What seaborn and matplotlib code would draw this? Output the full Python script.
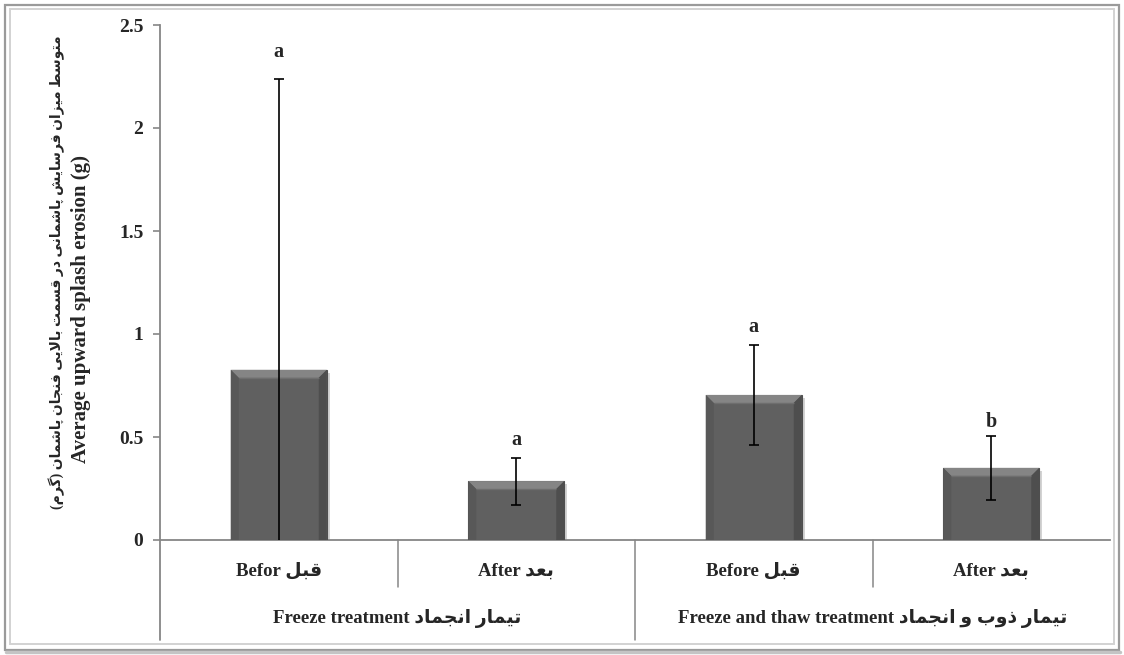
import numpy as np
import pandas as pd
import seaborn as sns
import matplotlib
matplotlib.use("Agg")
import matplotlib.pyplot as plt
from matplotlib.patches import Polygon, Rectangle
from matplotlib.lines import Line2D
import matplotlib.transforms as mtransforms

# ---------------- data ----------------
categories_en = ["Befor", "After", "Before", "After"]
categories_fa = ["قبل", "بعد", "قبل", "بعد"]
groups_en = ["Freeze treatment", "Freeze and thaw treatment"]
groups_fa = ["تیمار انجماد", "تیمار ذوب و انجماد"]
means = [0.826, 0.286, 0.704, 0.350]
errors = [1.41, 0.114, 0.243, 0.156]
letters = ["a", "a", "a", "b"]
letter_y = [2.345, 0.461, 1.01, 0.549]
yticks = [0, 0.5, 1, 1.5, 2, 2.5]
ytick_labels = ["0", "0.5", "1", "1.5", "2", "2.5"]
ylabel_en = "Average upward splash erosion (g)"
ylabel_fa = "متوسط میزان فرسایش پاشمانی در قسمت بالایی فنجان پاشمان (گرم)"

# ------------- Persian shaping (presentation forms) -------------
FORMS = {
    'ا': ('\uFE8D', '\uFE8E', None, None),
    'ب': ('\uFE8F', '\uFE90', '\uFE91', '\uFE92'),
    'ت': ('\uFE95', '\uFE96', '\uFE97', '\uFE98'),
    'ج': ('\uFE9D', '\uFE9E', '\uFE9F', '\uFEA0'),
    'د': ('\uFEA9', '\uFEAA', None, None),
    'ذ': ('\uFEAB', '\uFEAC', None, None),
    'ر': ('\uFEAD', '\uFEAE', None, None),
    'ز': ('\uFEAF', '\uFEB0', None, None),
    'س': ('\uFEB1', '\uFEB2', '\uFEB3', '\uFEB4'),
    'ش': ('\uFEB5', '\uFEB6', '\uFEB7', '\uFEB8'),
    'ط': ('\uFEC1', '\uFEC2', '\uFEC3', '\uFEC4'),
    'ع': ('\uFEC9', '\uFECA', '\uFECB', '\uFECC'),
    'ف': ('\uFED1', '\uFED2', '\uFED3', '\uFED4'),
    'ق': ('\uFED5', '\uFED6', '\uFED7', '\uFED8'),
    'ل': ('\uFEDD', '\uFEDE', '\uFEDF', '\uFEE0'),
    'م': ('\uFEE1', '\uFEE2', '\uFEE3', '\uFEE4'),
    'ن': ('\uFEE5', '\uFEE6', '\uFEE7', '\uFEE8'),
    'و': ('\uFEED', '\uFEEE', None, None),
    'پ': ('\uFB56', '\uFB57', '\uFB58', '\uFB59'),
    'گ': ('\uFB92', '\uFB93', '\uFB94', '\uFB95'),
    'ی': ('\uFBFC', '\uFBFD', '\uFBFE', '\uFBFF'),
}


def shape_fa(text):
    chars = list(text)
    n = len(chars)
    out = []
    dual = lambda c: c in FORMS and FORMS[c][2] is not None
    i = 0
    while i < n:
        c = chars[i]
        if c not in FORMS:
            out.append(c)
            i += 1
            continue
        prev = chars[i - 1] if i > 0 else None
        joins_prev = prev is not None and dual(prev)
        if c == 'ل' and i + 1 < n and chars[i + 1] == 'ا':
            out.append('\uFEFC' if joins_prev else '\uFEFB')
            i += 2
            continue
        nxt = chars[i + 1] if i + 1 < n else None
        joins_next = dual(c) and nxt is not None and nxt in FORMS
        iso, fin, ini, med = FORMS[c]
        if joins_prev and joins_next:
            f = med
        elif joins_prev:
            f = fin
        elif joins_next:
            f = ini
        else:
            f = iso
        out.append(f)
        i += 1
    vis = ''.join(reversed(out))
    return vis.translate(str.maketrans('()', ')('))


# ---------------- style ----------------
sns.set_style("white")
plt.rcParams['font.family'] = ['Liberation Serif', 'DejaVu Sans']
plt.rcParams['font.weight'] = 'bold'
plt.rcParams['axes.unicode_minus'] = False

W, H = 1124, 655
fig = plt.figure(figsize=(W / 100, H / 100), dpi=100)
fig.patch.set_facecolor('white')

ax_left, ax_right, ax_top, ax_bottom = 160, 1110, 25, 540
ax = fig.add_axes([ax_left / W, 1 - ax_bottom / H, (ax_right - ax_left) / W,
                   (ax_bottom - ax_top) / H])

df = pd.DataFrame({"pos": list(range(len(means))), "mean": means})
sns.barplot(data=df, x="pos", y="mean", width=0.404, color="#606060",
            saturation=1, errorbar=None, edgecolor="#4f4f4f", linewidth=0.8,
            ax=ax, zorder=3)

ax.set_xlim(-0.5, len(means) - 0.5)
ax.set_ylim(0, 2.5)

# spines / ticks
spine_c = "#868686"
for s in ["top", "right"]:
    ax.spines[s].set_visible(False)
for s in ["left", "bottom"]:
    ax.spines[s].set_color(spine_c)
    ax.spines[s].set_linewidth(1.3)
ax.set_yticks(yticks)
ax.set_yticklabels(ytick_labels, fontsize=14, fontweight='bold',
                   family='Liberation Serif')
ax.tick_params(axis='y', direction='out', length=5, width=1.2, color=spine_c,
               pad=7, left=True)
ax.set_xticks(range(len(means)))
ax.set_xticklabels([f"{en} {shape_fa(fa)}" for en, fa in zip(categories_en, categories_fa)],
                   fontsize=13.5, fontweight='bold')
ax.tick_params(axis='x', length=0, pad=16)
ax.set_xlabel("")
ax.set_ylabel("")
ax.grid(False)

# bevel effect on bars (display coordinates derived from the bar patches)
ident = mtransforms.IdentityTransform()
bars = list(ax.patches)
bev = 8
for p in bars:
    x0d, y0d = ax.transData.transform((p.get_x(), p.get_y()))
    x1d, y1d = ax.transData.transform((p.get_x() + p.get_width(), p.get_y() + p.get_height()))
    sh = Rectangle((x0d + 3, y0d - 3), x1d - x0d, y1d - y0d, transform=ident,
                   facecolor="#c8c8c8", edgecolor="none", zorder=2, alpha=0.8)
    sh.set_clip_path(ax.patch)
    ax.add_patch(sh)
    polys = [
        ([(x0d, y1d), (x1d, y1d), (x1d - bev, y1d - bev), (x0d + bev, y1d - bev)], "#858585"),
        ([(x0d, y1d), (x0d + bev, y1d - bev), (x0d + bev, y0d), (x0d, y0d)], "#585858"),
        ([(x1d, y1d), (x1d - bev, y1d - bev), (x1d - bev, y0d), (x1d, y0d)], "#4e4e4e"),
    ]
    for pts, col in polys:
        poly = Polygon(pts, closed=True, transform=ident, facecolor=col,
                       edgecolor="none", zorder=3.5)
        poly.set_clip_path(ax.patch)
        ax.add_patch(poly)
    inner = Polygon([(x0d + bev, y1d - bev), (x1d - bev, y1d - bev)], closed=False,
                    transform=ident, edgecolor="#6e6e6e", facecolor="none",
                    linewidth=1, zorder=3.6)
    ax.add_patch(inner)

# error bars
centers = [p.get_x() + p.get_width() / 2 for p in bars]
ax.errorbar(centers, means, yerr=errors, fmt='none', ecolor='black',
            elinewidth=1.2, capsize=3.8, capthick=1.2, zorder=5)

# significance letters
for cx, lt, ly in zip(centers, letters, letter_y):
    ax.text(cx, ly, lt, ha='center', va='baseline', fontsize=14.5,
            fontweight='bold', family='Liberation Serif', zorder=6)

# category / group separators below the axis
blend = mtransforms.blended_transform_factory(ax.transData, ax.transAxes)
row1 = -(587 - ax_bottom) / (ax_bottom - ax_top)
row2 = -(640 - ax_bottom) / (ax_bottom - ax_top)
ax.add_line(Line2D([0, 0], [0, row2], transform=ax.transAxes, color=spine_c,
                   linewidth=1.3, clip_on=False))
n = len(means)
for k in range(1, n):
    b = k - 0.5
    bottom = row2 if k == n // 2 else row1
    ax.add_line(Line2D([b, b], [0, bottom], transform=blend, color=spine_c,
                       linewidth=1.1, clip_on=False))

# group labels
gy = -(618 - ax_bottom) / (ax_bottom - ax_top)
for gi, (gen, gfa) in enumerate(zip(groups_en, groups_fa)):
    gx = np.mean([2 * gi, 2 * gi + 1])
    ax.text(gx, gy, f"{gen} {shape_fa(gfa)}", transform=blend, ha='center',
            va='center', fontsize=13.5, fontweight='bold')

# y-axis labels (two lines)
fig.text(81 / W, 1 - 309 / H, ylabel_en, rotation=90, ha='center', va='center',
         fontsize=15, fontweight='bold', family='Liberation Serif')
fig.text(57 / W, 1 - 272 / H, shape_fa(ylabel_fa), rotation=90, ha='center',
         va='center', fontsize=10, fontweight='bold')

# outer frame
fig.add_artist(Rectangle((5 / W, 5 / H), 1 - 10 / W, 1 - 10 / H,
                         transform=fig.transFigure, facecolor='none',
                         edgecolor='#9a9a9a', linewidth=1.6))
fig.add_artist(Rectangle((10 / W, 11 / H), 1 - 20 / W, 1 - 20 / H,
                         transform=fig.transFigure, facecolor='none',
                         edgecolor='#d2d2d2', linewidth=1.4))
fig.add_artist(Line2D([6 / W, 1 - 4 / W], [3 / H, 3 / H], transform=fig.transFigure,
                      color='#c4c4c4', linewidth=2.5))

fig.savefig("out.png", dpi=100, facecolor='white')
